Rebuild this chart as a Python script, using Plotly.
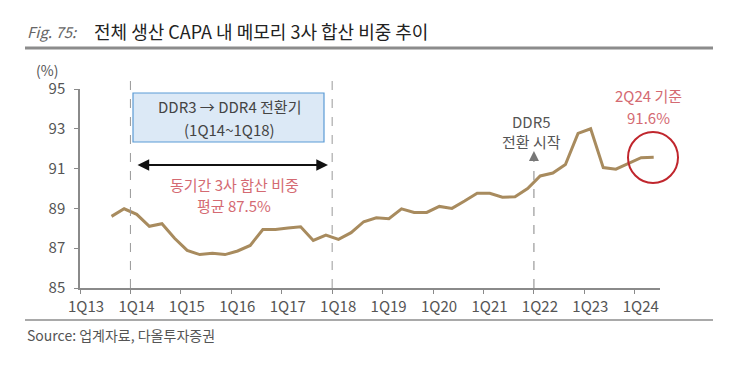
import plotly.graph_objects as go

# ---- data ----
quarters = ["3Q13","4Q13","1Q14","2Q14","3Q14","4Q14","1Q15","2Q15","3Q15","4Q15",
            "1Q16","2Q16","3Q16","4Q16","1Q17","2Q17","3Q17","4Q17","1Q18","2Q18",
            "3Q18","4Q18","1Q19","2Q19","3Q19","4Q19","1Q20","2Q20","3Q20","4Q20",
            "1Q21","2Q21","3Q21","4Q21","1Q22","2Q22","3Q22","4Q22","1Q23","2Q23",
            "3Q23","4Q23","1Q24","2Q24"]
share = [88.6, 88.98, 88.7, 88.1, 88.23, 87.5, 86.89, 86.68, 86.74, 86.68,
         86.86, 87.14, 87.94, 87.94, 88.01, 88.08, 87.39, 87.66, 87.44, 87.78,
         88.33, 88.53, 88.48, 88.98, 88.8, 88.8, 89.1, 89.0, 89.37, 89.76,
         89.76, 89.56, 89.59, 90.0, 90.63, 90.78, 91.2, 92.77, 93.0, 91.05,
         90.97, 91.27, 91.55, 91.57]
tick_labels = ["1Q13","1Q14","1Q15","1Q16","1Q17","1Q18","1Q19","1Q20","1Q21","1Q22","1Q23","1Q24"]
y_ticks = [85, 87, 89, 91, 93, 95]

FONT = "Noto Sans CJK KR"
W, H = 743, 373
OX, OY = 8, 8          # page body offset
PL, PT = 80, 89        # plot-area top-left in screen pixels
PW, PH = 580, 199
L, T = PL - OX, PT - OY
R, B = W - L - PW, H - T - PH

def qpos(label):
    q = int(label[0]); yr = int(label[2:])
    return (yr - 13) * 4 + (q - 1)

x_vals = [qpos(q) + 0.5 for q in quarters]
tick_vals = [qpos(t) for t in tick_labels]

def px(x):
    return (x - PL) / PW

def py(y):
    return (PT + PH - y) / PH

fig = go.Figure()
fig.add_trace(go.Scatter(x=x_vals, y=share, mode="lines",
                         line=dict(color="#a88b5e", width=3), hoverinfo="skip"))

shapes = []
annots = []
grey = "#8a8a8a"
red_txt = "#d46a72"

def text(x, y, s, size=15, color="#555", anchor="center", family=FONT):
    annots.append(dict(x=px(x), y=py(y), xref="paper", yref="paper", xanchor=anchor, yanchor="middle",
                       text=s, showarrow=False, font=dict(family=family, size=size, color=color)))

# title
text(25, 32, "<i>Fig. 75:</i>", size=15, color="#666", anchor="left")
text(92, 31, "전체 생산 CAPA 내 메모리 3사 합산 비중 추이", size=18, color="#222", anchor="left")
shapes.append(dict(type="line", xref="paper", yref="paper", x0=px(25), x1=px(713), y0=py(48), y1=py(48),
                   line=dict(color="#8c8c8c", width=3)))
shapes.append(dict(type="line", xref="paper", yref="paper", x0=px(25), x1=px(713), y0=py(320), y1=py(320),
                   line=dict(color="#8c8c8c", width=1.5)))
text(25, 335, "Source: 업계자료, 다올투자증권", size=14, color="#555", anchor="left")
text(47, 70, "(%)", size=14, color="#555")

# dashed period lines
for q in ["1Q14", "1Q18"]:
    shapes.append(dict(type="line", xref="x", yref="paper", x0=qpos(q), x1=qpos(q), y0=0, y1=py(78),
                       line=dict(color="#999", width=1, dash="dash")))
# DDR5 dashed line + triangle head
shapes.append(dict(type="line", xref="x", yref="paper", x0=qpos("1Q22"), x1=qpos("1Q22"), y0=0, y1=py(160),
                   line=dict(color="#999", width=1.2, dash="dash")))
xa = PL + qpos("1Q22") * PW / 46
shapes.append(dict(type="path", xref="paper", yref="paper",
                   path=f"M {px(xa-5)} {py(161)} L {px(xa+5)} {py(161)} L {px(xa)} {py(151)} Z",
                   fillcolor="#777", line=dict(width=0)))
text(531, 121, "DDR5", size=15)
text(531, 141, "전환 시작", size=15)

# box
shapes.append(dict(type="rect", xref="paper", yref="paper", x0=px(133), x1=px(324), y0=py(142), y1=py(93),
                   fillcolor="#dce9f6", line=dict(color="#5b9bd5", width=1.2)))
text(229, 106, "DDR3 → DDR4 전환기", size=15, color="#444")
text(229, 129, "(1Q14~1Q18)", size=15, color="#444")
# double arrow
annots.append(dict(x=px(328), y=py(165), xref="paper", yref="paper", text="", showarrow=True,
                   ax=-192, ay=0, arrowside="end+start", arrowhead=2, arrowsize=1.3, arrowwidth=1.8,
                   arrowcolor="#111"))
text(234, 184, "동기간 3사 합산 비중", size=15, color=red_txt)
text(234, 205, "평균 87.5%", size=15, color=red_txt)

# 2Q24 callout
text(648, 95, "2Q24 기준", size=15, color=red_txt)
text(648, 117, "91.6%", size=15, color=red_txt)
shapes.append(dict(type="circle", xref="paper", yref="paper", x0=px(628), x1=px(678), y0=py(183), y1=py(132),
                   line=dict(color="#c0262d", width=2)))

fig.update_layout(
    width=W, height=H,
    margin=dict(l=L, r=R, t=T, b=B),
    paper_bgcolor="white", plot_bgcolor="white",
    showlegend=False,
    shapes=shapes, annotations=annots,
    xaxis=dict(range=[0, 46], tickvals=tick_vals, ticktext=tick_labels, showgrid=False, zeroline=False,
               showline=True, linecolor=grey, linewidth=1.5, ticks="outside", ticklen=4, tickcolor=grey,
               ticklabelshift=6,
               tickfont=dict(family=FONT, size=15, color="#555")),
    yaxis=dict(range=[85, 95], tickvals=y_ticks, showgrid=False, zeroline=False,
               showline=True, linecolor=grey, linewidth=1.5, ticks="outside", ticklen=4, tickcolor=grey,
               ticklabelstandoff=6,
               tickfont=dict(family=FONT, size=15, color="#555")),
)

fig.write_html("out.html")
